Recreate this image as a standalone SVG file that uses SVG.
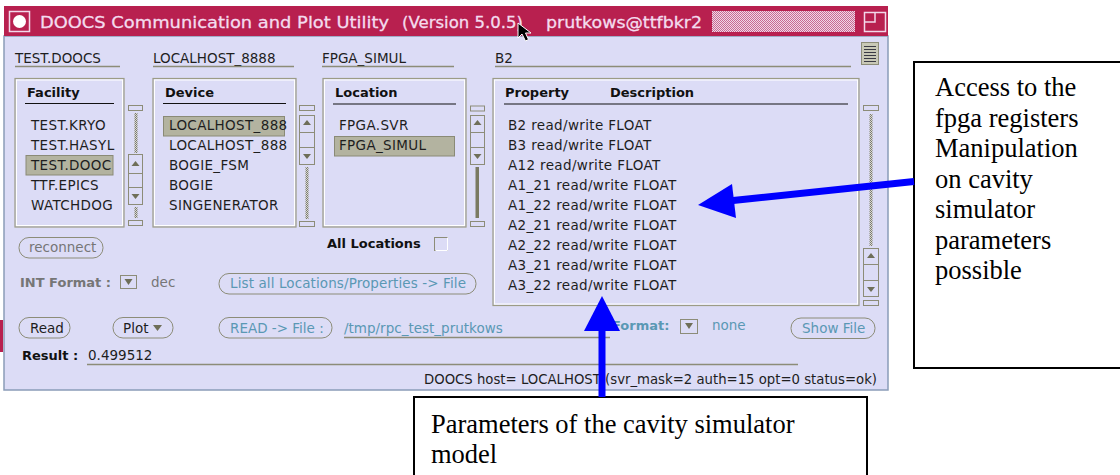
<svg xmlns="http://www.w3.org/2000/svg" width="1120" height="475" viewBox="0 0 1120 475">
  <defs>
    <pattern id="dots" width="2" height="2" patternUnits="userSpaceOnUse">
      <rect width="2" height="2" fill="#d8d8d0"/>
      <rect width="1" height="1" fill="#7a7a70"/>
      <rect x="1" y="1" width="1" height="1" fill="#7a7a70"/>
    </pattern>
    <pattern id="titleDots" width="2" height="2" patternUnits="userSpaceOnUse">
      <rect width="2" height="2" fill="#f0d8e6"/>
      <rect width="1" height="1" fill="#c86a92"/>
      <rect x="1" y="1" width="1" height="1" fill="#c86a92"/>
    </pattern>
    <style>
      .ui { font-family: "DejaVu Sans", "Liberation Sans", sans-serif; font-size: 13.5px; fill: #1e1e1e; }
      .item { letter-spacing: 0.35px; }
      .hdr { font-family: "DejaVu Sans", "Liberation Sans", sans-serif; font-size: 13px; font-weight: bold; fill: #111; }
      .teal { fill: #5a98b4; }
      .grey { fill: #767676; }
      .panel { fill: none; stroke: #9c9c86; stroke-width: 1.2; }
      .panelHi { fill: none; stroke: #ffffff; stroke-width: 1; }
      .uline { stroke: #8c8c78; stroke-width: 1.4; }
      .sel { fill: #b3b3a0; stroke: #8a8a76; stroke-width: 1; }
      .sb { fill: #dcdcf6; stroke: #8c8c78; stroke-width: 1; }
      .tri { fill: #6e6e58; }
      .btn { fill: #dcdcf6; stroke: #8c8c78; stroke-width: 1; }
      .title { font-family: "DejaVu Sans", sans-serif; font-size: 16px; fill: #f4dcee; stroke: #f4dcee; stroke-width: 0.3; }
      .note { font-family: "Liberation Serif", "Times New Roman", serif; font-size: 26.5px; fill: #000; }
      .callout { fill: #ffffff; stroke: #000; stroke-width: 2; }
      .arrow { stroke: #0000ff; stroke-width: 7; fill: none; }
    </style>
  </defs>

  <rect width="1120" height="475" fill="#ffffff"/>

  <!-- application window -->
  <g id="window">
    <rect x="4" y="36" width="884" height="354" fill="#dcdcf6" stroke="#8a9cb8" stroke-width="1.5"/>
    <rect x="0" y="320" width="3" height="32" fill="#b8204f"/>
    <!-- title bar -->
    <rect x="4" y="6" width="884" height="30" fill="#b8204f"/>
    <rect x="9.5" y="11.5" width="20" height="20" fill="none" stroke="#f2d8ea" stroke-width="1.5"/>
    <circle cx="19.5" cy="21.5" r="6.5" fill="#ffffff"/>
    <text class="title" x="40" y="28" textLength="349" lengthAdjust="spacingAndGlyphs">DOOCS Communication and Plot Utility</text>
    <text class="title" x="402" y="28" textLength="121" lengthAdjust="spacingAndGlyphs">(Version 5.0.5)</text>
    <text class="title" x="546" y="28" textLength="156" lengthAdjust="spacingAndGlyphs">prutkows@ttfbkr2</text>
    <rect x="712" y="11" width="143" height="21" fill="url(#titleDots)"/>
    <rect x="864.5" y="12.5" width="21" height="19" fill="none" stroke="#f2d8ea" stroke-width="1.5"/>
    <path d="M864.5,22 H875 V12.5" fill="none" stroke="#f2d8ea" stroke-width="1.5"/>
    <!-- pointer -->
    <path d="M518,23 L518,38 L522,34 L525.5,41 L528.5,39.5 L525.5,33 L531,33 Z" fill="#000" stroke="#fff" stroke-width="1"/>
  </g>

  <!-- selection fields -->
  <g id="fields">
    <text class="ui" x="15" y="63">TEST.DOOCS</text>
    <line class="uline" x1="15" y1="66.5" x2="120" y2="66.5"/>
    <text class="ui" x="153" y="63">LOCALHOST_8888</text>
    <line class="uline" x1="153" y1="66.5" x2="294" y2="66.5"/>
    <text class="ui" x="322" y="63">FPGA_SIMUL</text>
    <line class="uline" x1="322" y1="66.5" x2="454" y2="66.5"/>
    <text class="ui" x="495" y="63">B2</text>
    <line class="uline" x1="495" y1="66.5" x2="851" y2="66.5"/>
    <rect x="861.5" y="42.5" width="17" height="22" fill="#c8c8b6" stroke="#8c8c78"/>
    <path d="M864,46.5 H876 M864,49.5 H876 M864,52.5 H876 M864,55.5 H876 M864,58.5 H876 M864,61.5 H876" stroke="#3a3a44" stroke-width="1"/>
  </g>

  <!-- Facility list -->
  <g id="facility">
    <rect class="panel" x="15" y="78.5" width="109" height="148.5"/>
    <rect class="panelHi" x="16.5" y="80" width="106" height="145.5"/>
    <text class="hdr" x="27" y="97">Facility</text>
    <line x1="25" y1="103.5" x2="114" y2="103.5" stroke="#111" stroke-width="1.2"/>
    <rect class="sel" x="26" y="155.5" width="87" height="19.5"/>
    <text class="ui item" x="31" y="130">TEST.KRYO</text>
    <text class="ui item" x="31" y="150">TEST.HASYL</text>
    <text class="ui item" x="31" y="170">TEST.DOOC</text>
    <text class="ui item" x="31" y="190">TTF.EPICS</text>
    <text class="ui item" x="31" y="210">WATCHDOG</text>
    <!-- scrollbar -->
    <rect class="sb" x="128.5" y="105.5" width="14" height="5"/>
    <rect x="134.5" y="113" width="3" height="40" fill="url(#dots)"/>
    <rect class="sb" x="128.5" y="154.5" width="14" height="50"/>
    <line x1="128.5" y1="173.5" x2="142.5" y2="173.5" stroke="#8c8c78"/>
    <line x1="128.5" y1="187.5" x2="142.5" y2="187.5" stroke="#8c8c78"/>
    <path class="tri" d="M131.5,166 L139.5,166 L135.5,161 Z"/>
    <path class="tri" d="M131.5,194 L139.5,194 L135.5,199 Z"/>
    <rect x="134.5" y="207" width="3" height="11" fill="url(#dots)"/>
    <rect class="sb" x="128.5" y="220.5" width="14" height="5"/>
  </g>

  <!-- Device list -->
  <g id="device">
    <rect class="panel" x="153" y="78.5" width="143" height="148.5"/>
    <rect class="panelHi" x="154.5" y="80" width="140" height="145.5"/>
    <text class="hdr" x="165" y="97">Device</text>
    <line x1="163" y1="103.5" x2="286" y2="103.5" stroke="#111" stroke-width="1.2"/>
    <rect class="sel" x="163.5" y="116.5" width="121" height="19.5"/>
    <text class="ui item" x="169" y="130">LOCALHOST_888</text>
    <text class="ui item" x="169" y="150">LOCALHOST_888</text>
    <text class="ui item" x="169" y="170">BOGIE_FSM</text>
    <text class="ui item" x="169" y="190">BOGIE</text>
    <text class="ui item" x="169" y="210">SINGENERATOR</text>
    <rect class="sb" x="299.5" y="105.5" width="15" height="5"/>
    <rect class="sb" x="299.5" y="115.5" width="15" height="49"/>
    <line x1="299.5" y1="132.5" x2="314.5" y2="132.5" stroke="#8c8c78"/>
    <line x1="299.5" y1="147.5" x2="314.5" y2="147.5" stroke="#8c8c78"/>
    <path class="tri" d="M303,125 L311,125 L307,120 Z"/>
    <path class="tri" d="M303,154 L311,154 L307,159 Z"/>
    <rect x="305.5" y="167" width="3" height="52" fill="url(#dots)"/>
    <rect class="sb" x="299.5" y="221.5" width="15" height="5"/>
  </g>

  <!-- Location list -->
  <g id="location">
    <rect class="panel" x="323" y="78.5" width="143" height="148.5"/>
    <rect class="panelHi" x="324.5" y="80" width="140" height="145.5"/>
    <text class="hdr" x="335" y="97">Location</text>
    <line x1="333" y1="104" x2="456" y2="104" stroke="#111" stroke-width="1.2"/>
    <rect class="sel" x="334.5" y="136.5" width="120" height="19.5"/>
    <text class="ui item" x="339" y="130">FPGA.SVR</text>
    <text class="ui item" x="339" y="150">FPGA_SIMUL</text>
    <rect class="sb" x="470.5" y="106" width="14" height="5"/>
    <rect class="sb" x="470.5" y="115.5" width="14" height="49"/>
    <line x1="470.5" y1="132.5" x2="484.5" y2="132.5" stroke="#8c8c78"/>
    <line x1="470.5" y1="147.5" x2="484.5" y2="147.5" stroke="#8c8c78"/>
    <path class="tri" d="M473.5,125 L481.5,125 L477.5,120 Z"/>
    <path class="tri" d="M473.5,154 L481.5,154 L477.5,159 Z"/>
    <rect x="475.5" y="167" width="3.5" height="51" fill="#7a7a62"/>
    <rect class="sb" x="470.5" y="221.5" width="14" height="5"/>
    <text class="hdr" x="327" y="248">All Locations</text>
    <rect x="434.5" y="237.5" width="13" height="13" fill="#dcdcf6" stroke="#8c8c78"/>
    <path d="M435.5,250.5 H447.5 V237.5" fill="none" stroke="#ffffff"/>
  </g>

  <!-- Property list -->
  <g id="property">
    <rect class="panel" x="493" y="78.5" width="366" height="227"/>
    <rect class="panelHi" x="494.5" y="80" width="363" height="224"/>
    <text class="hdr" x="505" y="97">Property</text>
    <text class="hdr" x="610" y="97">Description</text>
    <line x1="504" y1="104" x2="848" y2="104" stroke="#111" stroke-width="1.2"/>
    <text class="ui item" x="508" y="130">B2 read/write FLOAT</text>
    <text class="ui item" x="508" y="150">B3 read/write FLOAT</text>
    <text class="ui item" x="508" y="170">A12 read/write FLOAT</text>
    <text class="ui item" x="508" y="190">A1_21 read/write FLOAT</text>
    <text class="ui item" x="508" y="210">A1_22 read/write FLOAT</text>
    <text class="ui item" x="508" y="230">A2_21 read/write FLOAT</text>
    <text class="ui item" x="508" y="250">A2_22 read/write FLOAT</text>
    <text class="ui item" x="508" y="270">A3_21 read/write FLOAT</text>
    <text class="ui item" x="508" y="290">A3_22 read/write FLOAT</text>
    <rect class="sb" x="863.5" y="105.5" width="15" height="5"/>
    <rect x="869.5" y="114" width="3" height="132" fill="url(#dots)"/>
    <rect class="sb" x="863.5" y="248.5" width="15" height="48"/>
    <line x1="863.5" y1="264.5" x2="878.5" y2="264.5" stroke="#8c8c78"/>
    <line x1="863.5" y1="280.5" x2="878.5" y2="280.5" stroke="#8c8c78"/>
    <path class="tri" d="M867,258 L875,258 L871,253 Z"/>
    <path class="tri" d="M867,287 L875,287 L871,292 Z"/>
    <rect class="sb" x="863.5" y="300.5" width="15" height="5"/>
  </g>

  <!-- controls -->
  <g id="controls">
    <rect class="btn" x="19" y="237.5" width="84" height="20.5" rx="10"/>
    <text class="ui grey" x="29" y="252">reconnect</text>
    <text class="hdr grey" x="20" y="287">INT Format :</text>
    <rect x="120.5" y="275.5" width="16" height="13" fill="#dcdcf6" stroke="#8c8c78"/>
    <path class="tri" d="M124.5,279 L132.5,279 L128.5,285 Z"/>
    <text class="ui grey" x="151" y="287">dec</text>
    <rect class="btn" x="219" y="273.5" width="257" height="20.5" rx="10"/>
    <text class="ui teal" x="230" y="288" textLength="236">List all Locations/Properties -&gt; File</text>

    <rect class="btn" x="19" y="317.5" width="51" height="20.5" rx="10"/>
    <text class="ui" x="30" y="333">Read</text>
    <rect class="btn" x="113" y="317.5" width="60" height="20.5" rx="10"/>
    <text class="ui" x="123" y="333">Plot</text>
    <path class="tri" d="M153,325 L162,325 L157.5,331 Z"/>
    <rect class="btn" x="219" y="317.5" width="113" height="20.5" rx="10"/>
    <text class="ui teal" x="230" y="333">READ -&gt; File :</text>
    <text class="ui teal" x="344" y="333">/tmp/rpc_test_prutkows</text>
    <line class="uline" x1="344" y1="337.5" x2="610" y2="337.5"/>
    <text class="hdr teal" x="612" y="330">Format:</text>
    <rect x="680.5" y="319.5" width="17" height="14" fill="#dcdcf6" stroke="#8c8c78"/>
    <path class="tri" d="M685,323 L693,323 L689,329 Z"/>
    <text class="ui teal" x="712" y="330">none</text>
    <rect class="btn" x="791" y="318" width="84" height="20.5" rx="10"/>
    <text class="ui teal" x="802" y="333">Show File</text>

    <text class="hdr" x="22" y="360">Result :</text>
    <text class="ui" x="88" y="360">0.499512</text>
    <line class="uline" x1="87" y1="364.5" x2="798" y2="364.5"/>
    <text class="ui" x="424" y="384" textLength="453" lengthAdjust="spacingAndGlyphs">DOOCS  host= LOCALHOST  (svr_mask=2 auth=15 opt=0 status=ok)</text>
  </g>

  <!-- annotation boxes -->
  <g id="note-registers">
    <rect class="callout" x="914" y="62" width="220" height="306"/>
    <text class="note" x="935" y="96">Access to the</text>
    <text class="note" x="935" y="126.5">fpga registers</text>
    <text class="note" x="935" y="157">Manipulation</text>
    <text class="note" x="935" y="187.5">on cavity</text>
    <text class="note" x="935" y="218">simulator</text>
    <text class="note" x="935" y="248.5">parameters</text>
    <text class="note" x="935" y="279">possible</text>
  </g>
  <g id="note-parameters">
    <rect class="callout" x="414" y="397" width="453" height="100"/>
    <text class="note" x="431" y="433">Parameters of the cavity simulator</text>
    <text class="note" x="431" y="463">model</text>
  </g>

  <!-- connectors -->
  <g id="connectors">
    <line class="arrow" x1="914" y1="181.5" x2="733" y2="200.5"/>
    <polygon points="698,205 732,184 736,218" fill="#0000ff"/>
    <line class="arrow" x1="602" y1="397" x2="602" y2="329"/>
    <polygon points="602,296 584,331 620,331" fill="#0000ff"/>
  </g>
</svg>
